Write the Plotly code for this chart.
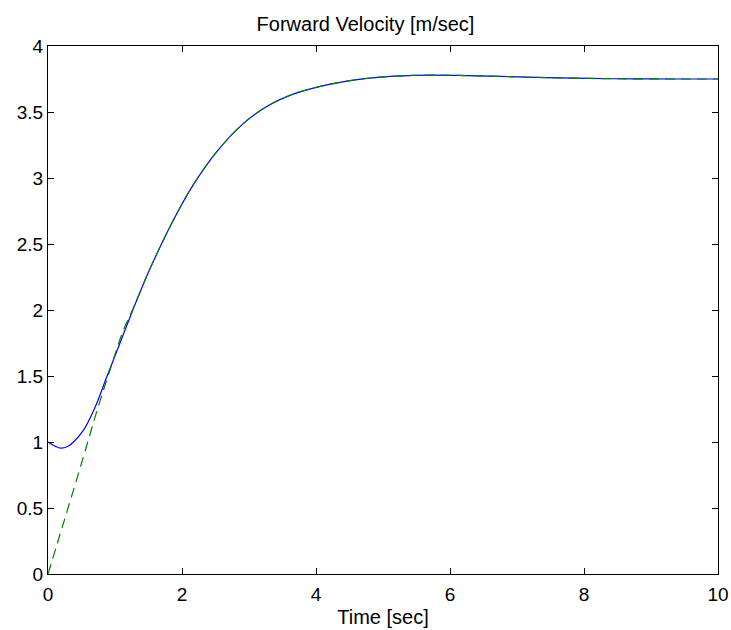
import plotly.graph_objects as go

# Blue solid curve (actual forward velocity)
t_blue = [0, 0.1, 0.19, 0.3, 0.38, 0.53, 0.70, 0.875, 1.075, 1.22, 1.37, 1.52,
          1.87, 2.17, 2.52, 2.91, 3.26, 3.66, 4.11, 4.51, 4.96, 5.45, 5.75, 6.25, 6.75,
          7.44, 8.44, 9.43, 10]
v_blue = [1.0, 0.97, 0.953, 0.968, 1.0, 1.09, 1.26, 1.49, 1.75, 1.94, 2.13, 2.31,
          2.68, 2.95, 3.20, 3.41, 3.54, 3.635, 3.70, 3.738, 3.764, 3.777, 3.78, 3.776, 3.77,
          3.76, 3.752, 3.75, 3.75]

# Green dashed curve (reference velocity)
t_green = [0, 0.23, 0.53, 0.73, 0.925, 1.12, 1.27, 1.37, 1.52,
           1.87, 2.17, 2.52, 2.91, 3.26, 3.66, 4.11, 4.51, 4.96, 5.45, 5.75, 6.25, 6.75,
           7.44, 8.44, 9.43, 10]
v_green = [0, 0.384, 0.89, 1.235, 1.545, 1.84, 2.01, 2.13, 2.31,
           2.68, 2.95, 3.20, 3.41, 3.54, 3.635, 3.70, 3.738, 3.764, 3.777, 3.78, 3.776, 3.77,
           3.76, 3.752, 3.75, 3.75]

x_ticks = [0, 2, 4, 6, 8, 10]
y_ticks = [0, 0.5, 1, 1.5, 2, 2.5, 3, 3.5, 4]
y_labels = ["0", "0.5", "1", "1.5", "2", "2.5", "3", "3.5", "4"]

fig = go.Figure()
fig.add_trace(go.Scatter(x=t_blue, y=v_blue, mode="lines", line_shape="spline",
                         line=dict(color="#0000ff", width=1.2), showlegend=False))
fig.add_trace(go.Scatter(x=t_green, y=v_green, mode="lines", line_shape="spline",
                         line=dict(color="#008000", width=1.2, dash="10px,6px"),
                         showlegend=False))

font = "Liberation Sans, Arial, sans-serif"
fig.update_layout(
    width=731, height=630,
    margin=dict(l=48, r=13, t=46, b=56),
    paper_bgcolor="white", plot_bgcolor="white",
    font=dict(family=font, size=19, color="black"),
    title=dict(text="Forward Velocity [m/sec]", x=0.5, xanchor="center",
               y=1 - 24 / 630, yanchor="middle", yref="container",
               font=dict(size=20, family=font, color="black")),
)
fig.update_xaxes(range=[0, 10], tickvals=x_ticks, ticktext=[str(v) for v in x_ticks],
                 ticks="inside", ticklen=6, tickcolor="black", showline=True,
                 linecolor="black", linewidth=1, mirror="ticks", showgrid=False,
                 zeroline=False, automargin=False, ticklabelstandoff=3,
                 title=dict(text="Time [sec]", standoff=6, font=dict(size=20)))
fig.update_yaxes(range=[0, 4], tickvals=y_ticks, ticktext=y_labels,
                 ticks="inside", ticklen=6, tickcolor="black", showline=True,
                 linecolor="black", linewidth=1, mirror="ticks", showgrid=False,
                 zeroline=False, automargin=False)

fig.write_html("out.html")
